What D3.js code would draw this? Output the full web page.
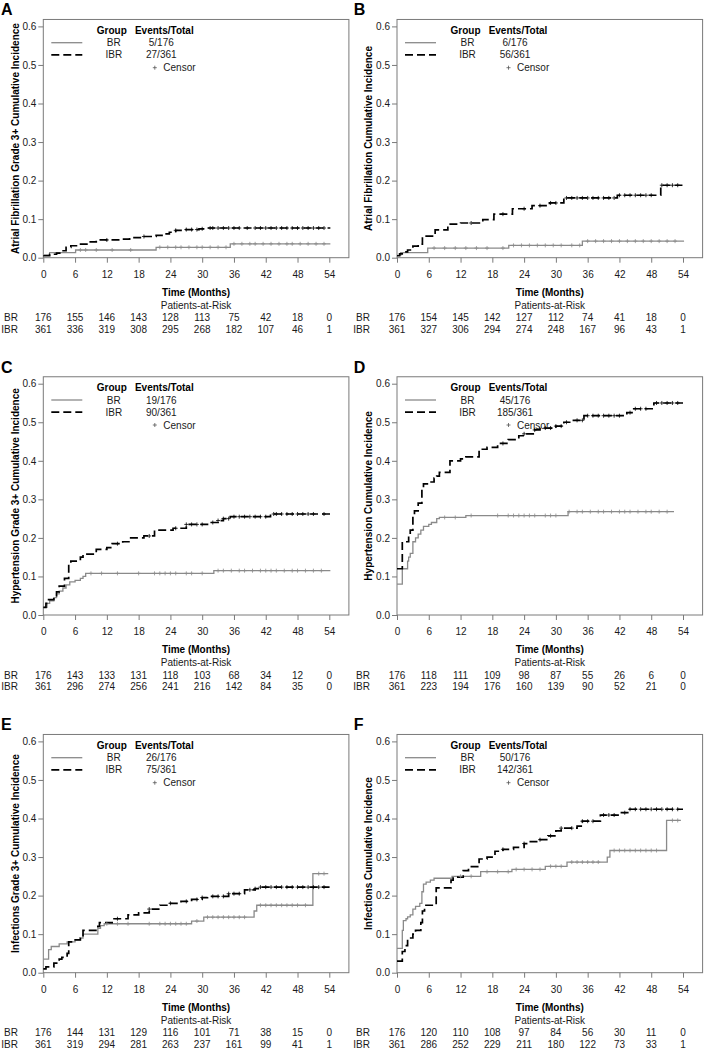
<!DOCTYPE html>
<html><head><meta charset="utf-8">
<script src="https://cdn.jsdelivr.net/npm/d3@7"></script>
<style>
body{margin:0;background:#fff}
svg text{font-family:"Liberation Sans",Arial,sans-serif;font-size:10px;fill:#1a1a1a}
</style>
</head><body>
<svg id="c" width="704" height="1050"></svg>
<script>
// ---------- data ----------
const letters = ["A","B","C","D","E","F"];
const yTitles = [
  "Atrial Fibrillation Grade 3+ Cumulative Incidence",
  "Atrial Fibrillation Cumulative Incidence",
  "Hypertension Grade 3+ Cumulative Incidence",
  "Hypertension Cumulative Incidence",
  "Infections Grade 3+ Cumulative Incidence",
  "Infections Cumulative Incidence"
];
const groups = ["BR","IBR"];
const eventsBR  = ["5/176","6/176","19/176","45/176","26/176","50/176"];
const eventsIBR = ["27/361","56/361","90/361","185/361","75/361","142/361"];
const xTicks = [0,6,12,18,24,30,36,42,48,54];
const yTicks = [0.0,0.1,0.2,0.3,0.4,0.5,0.6];
const riskBR = [
  [176,155,146,143,128,113,75,42,18,0],
  [176,154,145,142,127,112,74,41,18,0],
  [176,143,133,131,118,103,68,34,12,0],
  [176,118,111,109,98,87,55,26,6,0],
  [176,144,131,129,116,101,71,38,15,0],
  [176,120,110,108,97,84,56,30,11,0]
];
const riskIBR = [
  [361,336,319,308,295,268,182,107,46,1],
  [361,327,306,294,274,248,167,96,43,1],
  [361,296,274,256,241,216,142,84,35,0],
  [361,223,194,176,160,139,90,52,21,0],
  [361,319,294,281,263,237,161,99,41,1],
  [361,286,252,229,211,180,122,73,33,1]
];
// step curves: times (months) and cumulative incidence
const brTimes = [
  [0,1.2,6.1,21.3,35.3,54.2],
  [0,0.7,5.8,21.1,35,54.2],
  [0,0.7,1.2,2,2.5,3,3.7,4.3,5,6,7,7.5,8,32.2,54.2],
  [0,1,2,2.2,2.5,3,3.5,4,4.5,5,6,6.5,7.5,8,13,32.3,52.3],
  [0,1,1.5,3,4.5,6,7,7.5,10.3,10.8,11.5,28,30.3,39.8,40.3,50.9,53.8],
  [0,1,1.2,1.7,2,2.5,3,3.5,4.3,4.7,5,5.5,6.3,7,10.4,15.8,21.7,28,32.1,39.7,40.2,50.9,53.6]
];
const brValues = [
  [0.007,0.013,0.02,0.027,0.036,0.036],
  [0.006,0.013,0.025,0.032,0.043,0.043],
  [0.02,0.03,0.037,0.045,0.055,0.062,0.07,0.078,0.086,0.09,0.095,0.1,0.108,0.115,0.115],
  [0.08,0.12,0.14,0.15,0.16,0.19,0.2,0.21,0.22,0.23,0.235,0.24,0.25,0.253,0.258,0.268,0.268],
  [0.035,0.06,0.068,0.075,0.08,0.085,0.09,0.1,0.115,0.122,0.127,0.134,0.144,0.16,0.175,0.257,0.257],
  [0.063,0.11,0.135,0.14,0.145,0.15,0.165,0.172,0.18,0.21,0.23,0.235,0.24,0.245,0.25,0.262,0.268,0.276,0.287,0.3,0.317,0.395,0.395]
];
const ibrTimes = [
  [0,1.2,2.5,3.5,4.3,5.2,6.5,8.5,10,14.4,16.3,18.8,21.3,22.9,23.8,25,26.5,29.4,30.8,54.2],
  [0,0.5,1.2,2,3,4,4.8,7.2,9.6,12,16.2,18.3,21.8,25.5,28.8,31.5,41.6,49.8,54.2],
  [0,0.5,1,2,2.5,3,4,4.8,5.2,7,7.5,10,12,13,15,16.5,19,21,24.5,27,31,33,34,35.3,42.9,54.2],
  [0,1,2.2,2.5,3,3.3,4,4.7,5,6,7,7.5,8,10,12,13,15.5,17,19,21,23,24,26,27,30,31.5,33,35.3,43.4,44.7,48.5,54],
  [0,0.5,2,3,3.5,4.5,4.8,5.5,7,7.5,10.3,10.6,13,16,18,20,22,24,26,28,30,31,35,38,40,41,54.2],
  [0,1,1.5,2,3,3.5,4.5,4.8,5.2,7.4,10.2,10.6,12.5,13.5,15.5,17,18.5,20,22,24,25,27,28.5,30,31,34,35,38.4,42.2,43.8,54]
];
const ibrValues = [
  [0.005,0.009,0.012,0.018,0.027,0.031,0.035,0.041,0.046,0.048,0.052,0.055,0.058,0.062,0.066,0.071,0.073,0.075,0.077,0.077],
  [0.005,0.01,0.015,0.02,0.03,0.035,0.056,0.072,0.087,0.09,0.099,0.113,0.127,0.135,0.142,0.155,0.162,0.188,0.188],
  [0.02,0.03,0.04,0.05,0.06,0.075,0.095,0.135,0.14,0.15,0.158,0.17,0.175,0.185,0.19,0.2,0.205,0.22,0.225,0.235,0.24,0.245,0.25,0.255,0.262,0.262],
  [0.12,0.19,0.21,0.22,0.26,0.27,0.29,0.33,0.34,0.345,0.355,0.36,0.37,0.4,0.405,0.41,0.43,0.435,0.445,0.455,0.465,0.47,0.48,0.485,0.49,0.5,0.505,0.517,0.525,0.535,0.55,0.55],
  [0.01,0.015,0.025,0.035,0.04,0.05,0.08,0.085,0.09,0.11,0.12,0.13,0.14,0.15,0.155,0.165,0.175,0.18,0.185,0.19,0.195,0.198,0.205,0.215,0.218,0.222,0.222],
  [0.03,0.055,0.07,0.09,0.1,0.11,0.13,0.16,0.175,0.22,0.24,0.248,0.265,0.275,0.295,0.3,0.315,0.32,0.325,0.335,0.34,0.345,0.355,0.368,0.375,0.38,0.393,0.409,0.415,0.424,0.424]
];
// censor times
const brCensor = [
  [7,8,10,13,16.5,22,23.5,25,26,27.5,29,30,31.5,33,34.5,36,37.5,39,40,41.5,43,44.5,46,47,48.5,50,51.5,53],
  [7,9,11,13,15,17,20,22,23.5,25,26.5,28,29.5,31,33,34.5,36,37.5,39,40.5,42,43.5,45,46.5,48,49.5,51,52.5],
  [9,11,14,18,21,22,23,24,25,27,28,30,33,34,35.5,37,38,39.5,41,42,43,44,45.5,47,48,49.5,51,52.5],
  [9,11,14,19,21,22,23,24,25,26,28,29,30,32.5,34,35,36.5,38,39,40.5,42,43,44,45.5,47,48,49.5,51],
  [12,14,16,20,22,23,24,25,26,27,29,31,32,33,34,35,36,37,38,41,42,43,44,45,46,47,48,49.5,52,53],
  [12,14,17,19,21,22.5,24,25.5,27,29,30,31,33,34,35,36,37,38,41,42,43,44,45,46,47,48,49,52,53]
];
const ibrCensor = [
  [12,19,25,27,28,29,30,31.5,32,33,34,35,36,37,38.5,40,41,42,43,44,45,46,47,48,49,50,51,52,53],
  [14,20,24,27,29,30,32,33,34,35,36,37,38,39,40,41,42,43,44,45,46,47,48,50,51,52,53],
  [14,20,25,27,28,29,30,32,33,34,35,36,37,38,39,40,41,42,43.5,44,45,46,47,48,49,50,51,53],
  [20,24,26,28,29,30,31,32,34,35,36,37,38,39,40,41,42,44,45,46,47,49,50,51,52,53],
  [14,20,24,27,29,30,32,33,34,35,36,37,39,40,41,42,43,44,45,46,47,48,49,50,51,52,53],
  [20,24,27,29,31,33,35,36,37,39,40,41,43,44,45,46,47,48,49,50,51,52,53]
];

// ---------- layout ----------
const colOffset = [0, 353.7];
const rowZero = [257.7, 615, 972.7];
const plotH = 231.3;
const grey = "#8a8a8a";
const frameCol = "#7a7a7a";

const svg = d3.select("#c");
const stepLine = (x,y) => d3.line().x(d=>x(d[0])).y(d=>y(d[1])).curve(d3.curveStepAfter);

letters.forEach((L,i)=>{
  const col=i%2,row=Math.floor(i/2);
  const ox=colOffset[col], y0=rowZero[row];
  const x=d3.scaleLinear().domain([0,54]).range([43.3+ox,329.3+ox]);
  const y=d3.scaleLinear().domain([0,0.6]).range([y0,y0-plotH]);
  const g=svg.append("g");
  const yTop=y(0.618), xRight=x(57.7);

  // panel letter
  g.append("text").attr("x",ox+(col?0:1)).attr("y",y0-242.5).text(L)
    .style("font-size","16px").style("font-weight","bold").style("fill","#000");

  // frame
  g.append("rect").attr("x",x(0)).attr("y",yTop).attr("width",xRight-x(0)).attr("height",y0-yTop)
    .attr("fill","none").attr("stroke",frameCol).attr("stroke-width",1);

  // axes
  const ya=g.append("g").attr("transform",`translate(${x(0)},0)`)
    .call(d3.axisLeft(y).tickValues(yTicks).tickFormat(d3.format(".1f")).tickSize(5).tickPadding(2));
  const xa=g.append("g").attr("transform",`translate(0,${y0})`)
    .call(d3.axisBottom(x).tickValues(xTicks).tickSize(5).tickPadding(8));
  [ya,xa].forEach(a=>{
    a.select(".domain").remove();
    a.selectAll(".tick line").attr("stroke",frameCol);
    a.selectAll(".tick text").style("font-size","10px").style("fill","#1a1a1a");
  });

  // y title
  g.append("text").attr("transform",`translate(${ox+15},${(yTop+y0)/2}) rotate(-90)`)
    .attr("text-anchor","middle").attr("dy","0.35em").text(yTitles[i])
    .style("font-weight","bold").style("fill","#000");

  // curves
  const brPts=brTimes[i].map((t,k)=>[t,brValues[i][k]]);
  const ibrPts=ibrTimes[i].map((t,k)=>[t,ibrValues[i][k]]);
  g.append("path").attr("d",stepLine(x,y)(brPts)).attr("fill","none")
    .attr("stroke",grey).attr("stroke-width",1.3);
  g.append("path").attr("d",stepLine(x,y)(ibrPts)).attr("fill","none")
    .attr("stroke","#000").attr("stroke-width",1.7).attr("stroke-dasharray","8,4");

  // censor marks
  const valAt=(times,vals,t)=>vals[Math.max(0,d3.bisectRight(times,t)-1)];
  const cross="M-2,0H2M0,-2V2";
  brCensor[i].forEach(t=>{
    g.append("path").attr("d",cross).attr("transform",`translate(${x(t)},${y(valAt(brTimes[i],brValues[i],t))})`)
      .attr("stroke",grey).attr("stroke-width",0.8).attr("fill","none");
  });
  ibrCensor[i].forEach(t=>{
    g.append("path").attr("d",cross).attr("transform",`translate(${x(t)},${y(valAt(ibrTimes[i],ibrValues[i],t))})`)
      .attr("stroke","#000").attr("stroke-width",0.8).attr("fill","none");
  });

  // legend
  const y06=y(0.6), lx=x(0);
  g.append("text").attr("x",lx+68.5).attr("y",y06+4).attr("dy","0.35em").attr("text-anchor","middle")
    .text("Group").style("font-weight","bold").style("fill","#000");
  g.append("text").attr("x",lx+121).attr("y",y06+4).attr("dy","0.35em").attr("text-anchor","middle")
    .text("Events/Total").style("font-weight","bold").style("fill","#000");
  const rows=[[eventsBR[i],grey,1.3,null],[eventsIBR[i],"#000",1.7,"8,4"]];
  rows.forEach((r,k)=>{
    const ry=y06+16.3+k*12.2;
    g.append("line").attr("x1",lx+8).attr("x2",lx+39).attr("y1",ry).attr("y2",ry)
      .attr("stroke",r[1]).attr("stroke-width",r[2]).attr("stroke-dasharray",r[3]);
    g.append("text").attr("x",lx+70.5).attr("y",ry).attr("dy","0.35em").attr("text-anchor","middle").text(groups[k]);
    g.append("text").attr("x",lx+118).attr("y",ry).attr("dy","0.35em").attr("text-anchor","middle").text(r[0]);
  });
  const cy=y06+41.3;
  g.append("path").attr("d",cross).attr("transform",`translate(${lx+111.5},${cy})`).attr("stroke","#555").attr("stroke-width",0.8);
  g.append("text").attr("x",lx+120).attr("y",cy).attr("dy","0.35em").text("Censor");

  // x title & risk table
  const cx=(x(0)+xRight)/2;
  g.append("text").attr("x",cx).attr("y",y0+38).attr("text-anchor","middle").text("Time (Months)")
    .style("font-weight","bold").style("fill","#000");
  g.append("text").attr("x",cx).attr("y",y0+51).attr("text-anchor","middle").text("Patients-at-Risk");
  [[riskBR[i],63.5],[riskIBR[i],75]].forEach((r,k)=>{
    g.append("text").attr("x",ox+(col?16.3:18)).attr("y",y0+r[1]).attr("text-anchor","end").text(groups[k]);
    r[0].forEach((n,j)=>{
      g.append("text").attr("x",x(xTicks[j])).attr("y",y0+r[1]).attr("text-anchor","middle").text(n);
    });
  });
});
</script>
</body></html>
